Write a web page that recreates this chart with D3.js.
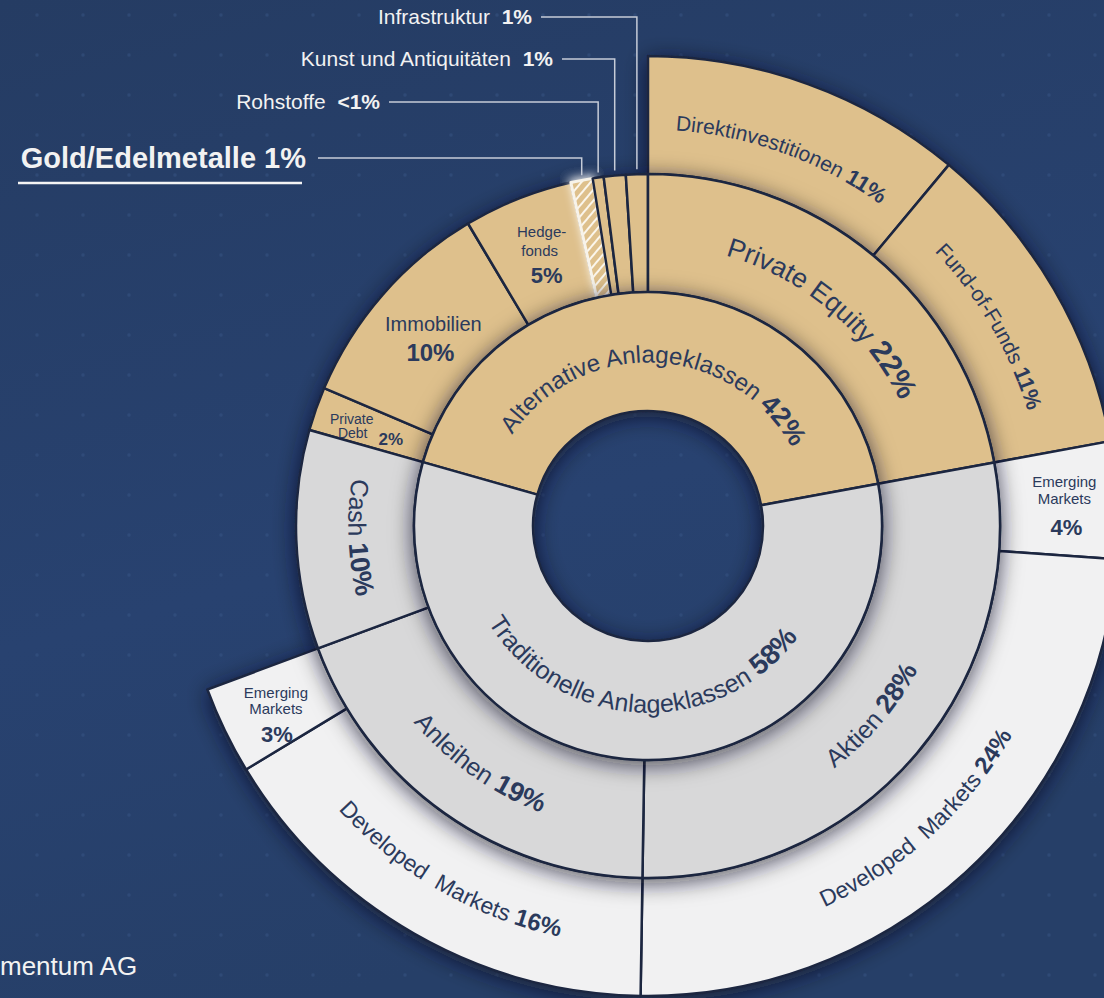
<!DOCTYPE html>
<html>
<head>
<meta charset="utf-8">
<script src="https://cdn.jsdelivr.net/npm/d3@7"></script>
<style>
html, body { margin: 0; padding: 0; background: #263e66; }
svg { display: block; }
text { font-family: "Liberation Sans", Arial, Helvetica, sans-serif; }
</style>
</head>
<body>
<svg id="chart" width="1104" height="998"></svg>
<script>
// Werte in %, so wie sie in der Grafik stehen
const groups = ["Alternative Anlageklassen", "Traditionelle Anlageklassen"];
const groupValues = [42, 58];

const altClasses = ["Private Debt", "Immobilien", "Hedgefonds", "Gold/Edelmetalle", "Rohstoffe", "Kunst und Antiquitäten", "Infrastruktur", "Private Equity"];
const altValues = [2, 10, 5, 1, 0.5, 1, 1, 22];
const altLabels = ["2%", "10%", "5%", "1%", "<1%", "1%", "1%", "22%"];

const peParts = ["Direktinvestitionen", "Fund-of-Funds"];
const peValues = [11, 11];

const tradClasses = ["Aktien", "Anleihen", "Cash"];
const tradValues = [28, 19, 10];

const aktienParts = ["Emerging Markets", "Developed Markets"];
const aktienValues = [4, 24];
const anleihenParts = ["Developed Markets", "Emerging Markets"];
const anleihenValues = [16, 3];

const sourceText = "mentum AG";

// ---- Layout ----
const W = 1104, H = 998;
const cx = 648, cy = 526;
const C = {
    tan: '#dec08c',
    gray: '#d8d8d9',
    white: '#f1f1f2',
    stroke: '#1b2641',
    text: '#2b3a5c',
    light: '#f2f2f2',
    leader: '#c6ccd8'
};

const svg = d3.select('#chart');
const defs = svg.append('defs');

// Hintergrund
const bgGrad = defs.append('linearGradient').attr('id', 'bgGrad')
    .attr('x1', 0).attr('y1', 0).attr('x2', 0.3).attr('y2', 1);
bgGrad.append('stop').attr('offset', '0%').attr('stop-color', '#253c63');
bgGrad.append('stop').attr('offset', '60%').attr('stop-color', '#284270');
bgGrad.append('stop').attr('offset', '100%').attr('stop-color', '#263f68');

const dots = defs.append('pattern').attr('id', 'dots')
    .attr('patternUnits', 'userSpaceOnUse').attr('width', 46).attr('height', 40);
dots.append('circle').attr('cx', 37).attr('cy', 15).attr('r', 1.7)
    .attr('fill', '#3d5b8c').attr('opacity', 0.4);

const shadow = defs.append('filter').attr('id', 'shadow')
    .attr('x', '-30%').attr('y', '-30%').attr('width', '160%').attr('height', '160%');
shadow.append('feDropShadow').attr('dx', 0).attr('dy', 4).attr('stdDeviation', 11)
    .attr('flood-color', '#070f20').attr('flood-opacity', 0.7);

const glow = defs.append('filter').attr('id', 'glow')
    .attr('x', '-100%').attr('y', '-50%').attr('width', '300%').attr('height', '200%');
glow.append('feDropShadow').attr('dx', 0).attr('dy', -2).attr('stdDeviation', 4)
    .attr('flood-color', '#ffffff').attr('flood-opacity', 0.8);

const hatch = defs.append('pattern').attr('id', 'hatch')
    .attr('patternUnits', 'userSpaceOnUse').attr('width', 7).attr('height', 7)
    .attr('patternTransform', 'rotate(40)');
hatch.append('rect').attr('width', 7).attr('height', 7).attr('fill', C.tan);
hatch.append('line').attr('x1', 1).attr('y1', 0).attr('x2', 1).attr('y2', 7)
    .attr('stroke', '#fbf6ec').attr('stroke-width', 2);

svg.append('rect').attr('width', W).attr('height', H).attr('fill', 'url(#bgGrad)');
svg.append('rect').attr('width', W).attr('height', H).attr('fill', 'url(#dots)');

// ---- Hierarchie ----
const tree = {
    name: 'root',
    children: [
        {
            name: groups[0], pct: groupValues[0] + '%',
            children: altClasses.map((n, i) => n === 'Private Equity'
                ? { name: n, pct: altLabels[i], children: peParts.map((p, j) => ({ name: p, value: peValues[j], pct: peValues[j] + '%' })) }
                : { name: n, value: altValues[i], pct: altLabels[i] })
        },
        {
            name: groups[1], pct: groupValues[1] + '%',
            children: tradClasses.map((n, i) => {
                if (n === 'Aktien') return { name: n, pct: tradValues[i] + '%', children: aktienParts.map((p, j) => ({ name: p, value: aktienValues[j], pct: aktienValues[j] + '%' })) };
                if (n === 'Anleihen') return { name: n, pct: tradValues[i] + '%', children: anleihenParts.map((p, j) => ({ name: p, value: anleihenValues[j], pct: anleihenValues[j] + '%' })) };
                return { name: n, value: tradValues[i], pct: tradValues[i] + '%' };
            })
        }
    ]
};

const root = d3.hierarchy(tree).sum(d => d.value || 0);
d3.partition().size([2 * Math.PI, 4])(root);

const key = d => d.parent ? d.parent.data.name + '/' + d.data.name : d.data.name;
const pe = root.descendants().find(d => d.data.name === 'Private Equity');

// Private Equity beginnt bei 12 Uhr
const angle = d3.scaleLinear().domain([pe.x0, pe.x0 + 2 * Math.PI]).range([0, 2 * Math.PI]);
const radius = d3.scaleLinear().domain([1, 2, 3, 4]).range([115, 234, 352, 470]);

const arc = d3.arc()
    .startAngle(d => angle(d.x0))
    .endAngle(d => angle(d.x1))
    .innerRadius(d => radius(d.y0))
    .outerRadius(d => radius(d.y1));

const fillOf = d => {
    const top = d.ancestors().find(a => a.depth === 1);
    if (top.data.name === groups[0]) return C.tan;
    return d.depth === 3 ? C.white : C.gray;
};

const g = svg.append('g').attr('transform', `translate(${cx},${cy})`);

[3, 2, 1].forEach(depth => {
    const layer = g.append('g').attr('filter', 'url(#shadow)');
    layer.selectAll('path')
        .data(root.descendants().filter(d => d.depth === depth))
        .enter()
        .append('path')
        .attr('d', arc)
        .attr('fill', d => d.data.name === 'Gold/Edelmetalle' ? 'url(#hatch)' : fillOf(d))
        .attr('stroke', d => d.data.name === 'Gold/Edelmetalle' ? '#f7f3ea' : C.stroke)
        .attr('stroke-width', d => d.data.name === 'Gold/Edelmetalle' ? 3 : 2.5)
        .attr('stroke-linejoin', 'round')
        .attr('filter', d => d.data.name === 'Gold/Edelmetalle' ? 'url(#glow)' : null);
});

// ---- Beschriftungen auf den Ringen ----
// Mitte der Schrift: oben (Schrift nach außen) bzw. unten (Schrift nach innen)
const textRadius = {
    cw: { 1: 172, 2: 291, 3: 404 },
    ccw: { 1: 178, 2: 297, 3: 412 }
};
const radiusSpecial = { 'Traditionelle Anlageklassen/Cash': 291 };
const arcFont = { 1: [24, 27], 2: [25, 27], 3: [23, 24] };
const arcFontSpecial = {
    'root/Traditionelle Anlageklassen': [25, 28],
    'Alternative Anlageklassen/Private Equity': [27, 30],
    'Private Equity/Direktinvestitionen': [21, 22],
    'Private Equity/Fund-of-Funds': [21, 22]
};

// [Text, Schriftgröße, Gewicht, dx, dy] relativ zum Flächenschwerpunkt
const blockLabels = {
    'Alternative Anlageklassen/Immobilien': [['Immobilien', 20, 400, 6, -2], ['{pct}', 24, 700, 3, 28]],
    'Alternative Anlageklassen/Hedgefonds': [['Hedge-', 15, 400, 2, -17], ['fonds', 15, 400, 0, 2], ['{pct}', 22, 700, 7, 29]],
    'Alternative Anlageklassen/Private Debt': [['Private', 14, 400, -20, -4], ['Debt', 14, 400, -19, 10], ['{pct}', 17, 700, 19, 17]],
    'Aktien/Emerging Markets': [['Emerging', 15, 400, 6, -16], ['Markets', 15, 400, 6, 1], ['{pct}', 22, 700, 8, 32]],
    'Anleihen/Emerging Markets': [['Emerging', 15, 400, -2, -7], ['Markets', 15, 400, -2, 9], ['{pct}', 22, 700, -1, 37]]
};

const callouts = {
    'Infrastruktur': { x: 532, y: 17, size: 21 },
    'Kunst und Antiquitäten': { x: 553, y: 59, size: 21 },
    'Rohstoffe': { x: 380, y: 102, size: 21 },
    'Gold/Edelmetalle': { x: 306, y: 158, size: 29, allBold: true, underline: true }
};

const labels = g.append('g');
let pid = 0;

root.descendants().filter(d => d.depth > 0).forEach(d => {
    const k = key(d);
    const a0 = angle(d.x0), a1 = angle(d.x1);
    const mid = (a0 + a1) / 2;
    const midDeg = ((mid * 180 / Math.PI) % 360 + 360) % 360;

    if (callouts[d.data.name]) return;

    if (blockLabels[k]) {
        const [px, py] = arc.centroid(d);
        const t = labels.append('text').attr('text-anchor', 'middle').attr('fill', C.text);
        blockLabels[k].forEach(([txt, fs, fw, dx, dy]) => {
            t.append('tspan')
                .attr('x', px + dx).attr('y', py + dy)
                .attr('font-size', fs).attr('font-weight', fw)
                .text(txt === '{pct}' ? d.data.pct : txt);
        });
        return;
    }

    const [fs, fsPct] = arcFontSpecial[k] || arcFont[d.depth];
    const ccw = midDeg > 90 && midDeg < 270;
    const rText = radiusSpecial[k] || textRadius[ccw ? 'ccw' : 'cw'][d.depth];
    const r = rText + (ccw ? 0.35 : -0.35) * fs;
    const pad = 0.6;
    const p = d3.path();
    if (!ccw) p.arc(0, 0, r, a0 - pad - Math.PI / 2, a1 + pad - Math.PI / 2, false);
    else p.arc(0, 0, r, a1 + pad - Math.PI / 2, a0 - pad - Math.PI / 2, true);
    const id = 'lp' + (pid++);
    defs.append('path').attr('id', id).attr('d', p.toString());

    const name = d.data.name === 'Developed Markets' ? 'Developed  Markets' : d.data.name;
    const tp = labels.append('text')
        .attr('fill', C.text)
        .style('white-space', 'pre')
        .append('textPath')
        .attr('href', '#' + id)
        .attr('startOffset', '50%')
        .attr('text-anchor', 'middle');
    tp.append('tspan').attr('font-size', fs).text(name + ' ');
    tp.append('tspan').attr('font-size', fsPct).attr('font-weight', 700).text(d.data.pct);
});

// ---- Hinweislinien für die kleinen Segmente ----
const outerAlt = radius(3);
root.descendants().filter(d => callouts[d.data.name]).forEach(d => {
    const c = callouts[d.data.name];
    const mid = (angle(d.x0) + angle(d.x1)) / 2;
    const lx = cx + outerAlt * Math.sin(mid);
    const ly = cy - outerAlt * Math.cos(mid) - 5;

    const t = svg.append('text')
        .attr('x', c.x).attr('y', c.y)
        .attr('dy', '0.35em')
        .attr('text-anchor', 'end')
        .attr('fill', C.light)
        .attr('font-size', c.size)
        .style('white-space', 'pre');
    if (c.allBold) {
        t.attr('font-weight', 700).text(d.data.name + ' ' + d.data.pct);
    } else {
        t.append('tspan').text(d.data.name + '  ');
        t.append('tspan').attr('font-weight', 700).text(d.data.pct);
    }

    const x0 = c.x + (c.allBold ? 12 : 9);
    svg.append('path')
        .attr('d', `M${x0},${c.y}H${lx}V${ly}`)
        .attr('fill', 'none')
        .attr('stroke', C.leader)
        .attr('stroke-width', 1.5);

    if (c.underline) {
        svg.append('line')
            .attr('x1', 18).attr('x2', c.x - 4)
            .attr('y1', c.y + 25).attr('y2', c.y + 25)
            .attr('stroke', '#f4f4f4').attr('stroke-width', 2.5);
    }
});

svg.append('text')
    .attr('x', 0).attr('y', 975)
    .attr('font-size', 26)
    .attr('fill', C.light)
    .text(sourceText);
</script>
</body>
</html>
